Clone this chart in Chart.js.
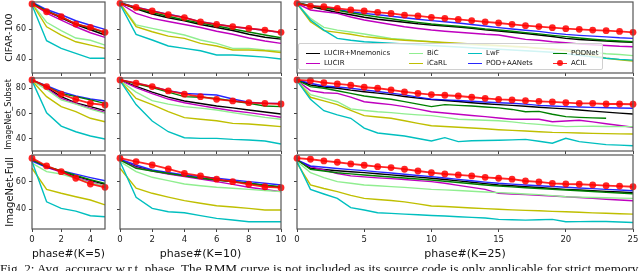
<!DOCTYPE html>
<html>
<head>
<meta charset="utf-8">
<script src="https://cdn.jsdelivr.net/npm/chart.js@4.4.1/dist/chart.umd.min.js"></script>
<style>
  body { margin: 0; width: 640px; height: 271px; overflow: hidden; background: #fff; position: relative; font-family: 'DejaVu Sans', sans-serif; }
  canvas { position: absolute; }
  #legend { position: absolute; left: 298px; top: 43px; width: 303px; height: 25px; background: rgba(255,255,255,0.82); border: 1px solid #d0d0d0; border-radius: 2px; z-index: 2; }
  .item { position: absolute; font-size: 7px; line-height: 8px; color: #111; white-space: nowrap; }
  .item .ln { position: absolute; top: 3.5px; width: 14px; height: 0; border-top: 1.5px solid; }
  .item .dot { position: absolute; top: 1px; left: 4px; width: 6px; height: 6px; border-radius: 50%; background: rgba(255,0,0,0.85); }
  .item span { position: absolute; left: 18px; top: 0; }
  #caption { position: absolute; left: 0; top: 262px; font-family: 'Liberation Serif', serif; font-size: 13.2px; line-height: 13px; white-space: nowrap; color: #111; }
</style>
</head>
<body>

<div id="legend"></div>
<div id="caption">Fig. 2: Avg. accuracy w.r.t. phase. The RMM curve is not included as its source code is only applicable for strict memory</div>

<script>
// Methods and colours (same order in every panel array)
const methods = ['LUCIR+Mnemonics', 'LUCIR', 'BiC', 'iCaRL', 'LwF', 'POD+AANets', 'PODNet', 'ACIL'];
const colors = ['#000000', '#bf00bf', '#90ee90', '#bfbf00', '#00bfbf', 'rgba(0,0,255,0.85)', '#008000', 'rgba(255,0,0,0.85)'];

const rowNames = ['CIFAR-100', 'ImageNet_Subset', 'ImageNet-Full'];
const phaseLabels = ['phase#(K=5)', 'phase#(K=10)', 'phase#(K=25)'];

// CIFAR-100
const cifarK5 = [
  [77.5, 72, 67.5, 63, 59.5, 56],
  [77, 70.5, 66, 61.5, 57.5, 54.4],
  [77, 64.5, 59, 54, 52.5, 49.3],
  [77, 61.5, 56, 51.5, 49.3, 47.1],
  [76, 52.2, 47.1, 43.8, 40.5, 40.5],
  [78, 73, 69.5, 65.5, 62.5, 59.8],
  [77.5, 72, 68, 63.5, 60.5, 57.5],
  [76.7, 71.5, 68.2, 63.3, 61.1, 57.8]
];
const cifarK10 = [
  [77.5, 73.5, 70, 67.5, 65.5, 63, 61, 59, 56.5, 54.5, 53.3],
  [77, 70.4, 67.1, 65, 63, 61, 58.5, 56.5, 54, 52, 50.4],
  [77, 62.7, 60.4, 58.2, 56, 52.7, 50.4, 47.1, 47.1, 46, 45.3],
  [77, 61.5, 58.2, 55.3, 53.8, 50.4, 48.7, 46, 46, 45.5, 44.4],
  [76.5, 56.4, 52.7, 48.7, 47.1, 45.5, 42.7, 42.7, 42, 41.3, 40],
  [77.5, 74.5, 72.2, 69.8, 67.7, 64.8, 63.2, 61.5, 60.3, 59.2, 57.6],
  [77.5, 74, 71, 68.5, 66, 64, 62, 60, 58, 56, 54.2],
  [77.1, 74.4, 72, 69.6, 67.6, 64.7, 63.1, 61.6, 60.4, 59.3, 57.8]
];
const cifarK25 = [
  [77.5, 75, 73, 71, 69.5, 67.8, 66.5, 65.5, 64.5, 63.5, 62.7, 62, 61.3, 60.5, 59.5, 58.7, 57.8, 57, 56, 55, 53.8, 53, 52.5, 52, 51.5, 51.1],
  [77, 72.7, 71.5, 70.4, 68, 66, 64.5, 63, 61.5, 60.3, 59.3, 58.5, 57.8, 57.2, 56.5, 56, 54.5, 53.1, 52.5, 51.5, 50.9, 50, 49.5, 49, 48.5, 48.2],
  [77, 67.1, 61.1, 59.3, 58, 56.7, 55.2, 53.8, 53, 52.3, 51.5, 50.8, 50, 49.5, 49, 48.6, 48.2, 47.8, 47.3, 46.8, 46.2, 45.5, 44.5, 43.5, 43, 42.3],
  [77, 64.9, 58.9, 57.8, 56.5, 54.9, 54, 53.2, 52.5, 52, 51.5, 51, 50.5, 50, 49.5, 49, 48.5, 48, 47.2, 46.5, 45.5, 44, 42.5, 40.5, 39.5, 38.7],
  [77, 66, 59.3, 53.8, 52.5, 51.5, 51, 50.5, 50, 49.5, 49, 48.5, 48, 47.5, 47, 46.5, 46, 45.5, 45, 44.5, 43.5, 42.5, 41.5, 40.5, 39.8, 39.3],
  [77.5, 75.5, 74.5, 73, 71.5, 70.4, 69.5, 68.5, 67.5, 66.5, 65.6, 64.8, 64, 63, 62, 60.9, 60, 59.2, 58.4, 57.3, 56.4, 55.8, 55.3, 54.8, 54.2, 53.8],
  [77.5, 75.5, 74, 72.5, 70.8, 69.3, 68, 66.8, 65.5, 64.4, 63.3, 62.5, 61.8, 61, 60, 59.3, 58.5, 57.6, 56.8, 55.8, 54.9, 54, 53.2, 52.5, 52, 51.5],
  [77.1, 75.3, 74.9, 73.8, 72.7, 72, 71.1, 70.4, 69.3, 68.7, 67.8, 67.1, 66.4, 65.6, 64.7, 64, 63.1, 62.2, 61.6, 60.9, 60.2, 59.8, 59.3, 58.9, 58.4, 57.8]
];

// ImageNet_Subset
const subsetK5 = [
  [86.5, 80.5, 73.4, 68.5, 65.5, 62.3],
  [86.5, 80, 72, 68, 64.2, 61],
  [86, 79, 70.8, 67.5, 63.5, 60.2],
  [86, 73.4, 65.5, 61.5, 56.3, 53.6],
  [86, 60.7, 50.2, 45.7, 42.3, 40],
  [86.5, 82, 77.3, 73.9, 71.5, 70],
  [86.5, 81.5, 76, 73.4, 70.8, 68.1],
  [86.6, 81.3, 75.3, 71.3, 68.1, 66.8]
];
const subsetK10 = [
  [86.5, 81.5, 77, 73, 70, 68, 66, 64.5, 62.9, 61.3, 59.7],
  [86.5, 80.5, 75.8, 71.5, 68.6, 66.3, 64.2, 62.3, 60.8, 59, 57.1],
  [86, 77, 70.2, 67.5, 65.5, 64.3, 62.9, 60.8, 58.9, 57, 55.5],
  [86, 72, 67.1, 61.5, 56.8, 55.5, 54.4, 52.3, 51.8, 50.8, 49.7],
  [86, 67.1, 54.2, 45.7, 41, 40.5, 40.5, 39.7, 39.2, 38.4, 36],
  [86.6, 84, 81.3, 78, 76, 75.3, 74.7, 71.5, 69, 68.1, 68.1],
  [86.6, 83.5, 80.5, 77, 73.4, 72.9, 72, 70, 68.1, 66, 65.5],
  [86.6, 84, 81.3, 77.9, 75.3, 73.4, 71.3, 70, 68.6, 68.1, 67.6]
];
const subsetK25 = [
  [86.5, 82.6, 81, 80, 78.5, 77.3, 76.2, 75, 73.5, 72.2, 71, 70.3, 69.5, 68.6, 67.8, 67.1, 66.5, 65.8, 65, 64.3, 63.7, 62.8, 62, 61.2, 60.4, 59.7],
  [86, 78.1, 76.5, 76, 73, 69.4, 68.2, 67.1, 65.5, 63.5, 61.5, 60.5, 59.5, 58.5, 57.6, 56.5, 55.5, 55.5, 55.5, 53.6, 54.2, 54.8, 53.5, 52, 50.6, 49.2],
  [86, 75, 72.2, 69.4, 63.7, 62.5, 61.5, 60.8, 59.8, 59, 58.4, 57, 55.5, 55.2, 54.8, 54.4, 53.5, 52.3, 51.5, 50.6, 49.7, 49.9, 50, 49.8, 49.7, 49.7],
  [86, 72.9, 70, 67.1, 62.5, 58.4, 57.3, 56.3, 54.4, 52.3, 50.4, 49.8, 49.2, 48.6, 48, 47.3, 46.8, 46.3, 45.7, 45.2, 45, 44.7, 44.4, 44.2, 44, 43.9],
  [86, 71.3, 62.3, 59, 56.3, 48.6, 44.7, 43.5, 42.3, 40.4, 38.4, 41, 37.9, 38.6, 38.8, 39, 39.3, 39.7, 38.2, 36.6, 40.5, 37.9, 36.7, 35.5, 35.1, 34.7],
  [86.5, 84, 81.8, 81, 80, 78.7, 77.5, 76.2, 74.8, 73, 71.3, 70.8, 70.3, 69.8, 69.2, 68.6, 68.2, 67.5, 66.5, 66, 65.5, 65.2, 64.9, 64.6, 64.4, 64.2],
  [86.5, 81.3, 80, 78, 76, 73.9, 72.5, 71.3, 69.5, 67.5, 65.5, 67.1, 66.5, 66, 65.2, 64.5, 63.3, 61.5, 61.8, 59.5, 57.6, 57, 56.6, 56.3, null, null],
  [86.6, 86, 84.4, 83.4, 82.4, 80.8, 80, 78.7, 77.1, 76, 75, 74.5, 73.9, 72.9, 72.1, 71.3, 70.8, 70.2, 69.7, 69.2, 68.6, 68.1, 68.1, 67.6, 67.6, 67.4]
];

// ImageNet-Full
const fullK5 = [
  [76, 71, 67.5, 64, 61, 58.1],
  [76, 70.5, 67, 63, 60, 56.8],
  [73.5, 67.3, 65.6, 62.5, 59.3, 56.8],
  [69.8, 54.4, 51.5, 49, 46.6, 43],
  [74.7, 45.3, 40.5, 38.5, 35.1, 34.4],
  [75, 70.5, 68, 65.5, 63, 60.7],
  [76, 71, 68, 64.5, 61.5, 58.8],
  [77.2, 71.5, 67.3, 62.5, 58.3, 55.9]
];
const fullK10 = [
  [76, 71, 68.1, 66, 64.2, 62.5, 61.2, 60, 58.8, 57.3, 55.9],
  [76, 70.5, 67.8, 65.5, 63.7, 62, 60, 58, 55.9, 54.3, 52.7],
  [74.7, 67.3, 63.2, 60.8, 58.3, 57, 55.9, 55.2, 54.4, 53.5, 52.7],
  [69.8, 55.2, 51.5, 48.7, 46.1, 44.2, 42.4, 41.5, 40.5, 39.3, 39.3],
  [74.7, 48.6, 40.5, 38, 37.3, 35.2, 33.2, 32, 30.7, 30.7, 30.7],
  [76.5, 72.2, 68.6, 66.8, 64.9, 63.7, 62.5, 61.2, 60, 58.8, 57.6],
  [76, 69.8, 67.8, 66, 64.2, 62.5, 61.2, 60, 58.8, 57.5, 56.3],
  [77.2, 74.7, 72.2, 69.3, 66.1, 64.2, 61.8, 60, 58.1, 56.3, 55.6]
];
const fullK25 = [
  [76, 69.8, 68.9, 68, 67.3, 66.6, 65.8, 65, 64.1, 63.3, 62.5, 61.6, 60.6, 59.6, 58.6, 57.6, 57, 56.3, 55.7, 55, 54.4, 53.9, 53.4, 52.9, 52.4, 52],
  [75.5, 71, 68.5, 66, 64.2, 63.5, 62.8, 62.2, 61.6, 60.8, 60, 58.8, 57.3, 55.8, 54.4, 51.5, 51, 50.5, 50, 49.5, 49, 48.4, 47.8, 47.2, 46.6, 46.1],
  [74.7, 66.6, 63, 60, 58.8, 57.6, 57, 56.4, 55.8, 55.1, 54.4, 54, 53.5, 53, 52.5, 52, 51.5, 51, 50.5, 49.8, 49, 48.7, 48.4, 48.2, 48, 47.8],
  [73.5, 57.6, 55, 52.7, 50, 47.8, 47, 46.2, 45.2, 43.8, 42.2, 41.8, 41.3, 40.8, 40.3, 39.8, 39.4, 39, 38.7, 38.3, 38, 37.6, 37.2, 36.9, 36.6, 36.3],
  [74.7, 54.4, 51, 47.8, 41, 39.3, 37.3, 36.8, 36.3, 35.8, 35.3, 34.9, 34.4, 33.9, 33.4, 32.4, 32.2, 31.9, 32.2, 32.4, 30.7, 30.8, 30.9, 30.9, 30.5, 30.2],
  [76, 71.5, 70.5, 69.6, 68.8, 68.1, 67.2, 66.3, 65.4, 64.5, 63.7, 62.7, 61.7, 60.7, 59.7, 58.8, 58.2, 57.6, 57, 56.5, 55.9, 55.4, 54.9, 54.4, 53.9, 53.4],
  [76, 69.1, 67.8, 66.5, 65.7, 64.9, 64.2, 63.4, 62.7, 62, 61.2, 60.3, 59.4, 58.5, 57.6, 56.8, 56.2, 55.6, 55, 54.5, 53.9, 53.4, 52.8, 52.2, 51.7, 51.2],
  [77.2, 76.4, 75.2, 74.2, 73, 72, 71, 70.3, 69.1, 67.8, 66.6, 65.6, 64.9, 64.2, 63.2, 62.5, 61.8, 60.5, 59.8, 58.8, 58.3, 58.1, 57.6, 57.1, 56.8, 56.3]
];

const panels = [
  [cifarK5, cifarK10, cifarK25],
  [subsetK5, subsetK10, subsetK25],
  [fullK5, fullK10, fullK25]
];

// layout of the subplot frames (pixels)
const cols = [
  { l: 32, r: 105, max: 5, step: 2 },
  { l: 120, r: 281, max: 10, step: 2 },
  { l: 297, r: 633, max: 25, step: 5 }
];
const rows = [
  { t: 2, b: 73, min: 30.7, max: 78, step: 20, label: 9.5 },
  { t: 78, b: 151, min: 30.5, max: 88.1, step: 20, label: 8 },
  { t: 155, b: 229, min: 25.4, max: 79.5, step: 20, label: 10 }
];

Chart.defaults.font.family = "'DejaVu Sans', sans-serif";
Chart.defaults.color = '#222';

// ticks at multiples of step only (matplotlib style)
function stepTicks(min, max, step) {
  const out = [];
  for (let v = Math.ceil(min / step) * step; v <= max + 1e-9; v += step) out.push({ value: v });
  return out;
}

const framePlugin = {
  id: 'frame',
  afterDatasetsDraw(chart) {
    const a = chart.chartArea, c = chart.ctx;
    c.save(); c.strokeStyle = '#555'; c.lineWidth = 1.2;
    c.strokeRect(a.left, a.top, a.right - a.left, a.bottom - a.top); c.restore();
  }
};

// y tick labels for the first column, placed with the y scale
const yLabelPlugin = {
  id: 'yLabels',
  afterDraw(chart) {
    if (!chart.$showYLabels) return;
    const s = chart.scales.y, c = chart.ctx;
    c.save();
    c.font = "8px 'DejaVu Sans', sans-serif";
    c.fillStyle = '#222';
    c.textAlign = 'right';
    c.textBaseline = 'middle';
    s.ticks.forEach(t => c.fillText(String(t.value), s.right - 6, s.getPixelForValue(t.value)));
    c.restore();
  }
};

const PAD_TOP = 6, PAD_RIGHT = 10;

function makePanel(ri, ci) {
  const row = rows[ri], col = cols[ci];
  const firstCol = ci === 0, lastRow = ri === 2;
  const yW = firstCol ? 32 : 10;
  const xH = lastRow ? 35 : 5;
  const w = col.r - col.l, h = row.b - row.t;

  const cv = document.createElement('canvas');
  cv.width = w + yW + PAD_RIGHT;
  cv.height = h + PAD_TOP + xH;
  cv.style.left = (col.l - yW) + 'px';
  cv.style.top = (row.t - PAD_TOP) + 'px';
  document.body.insertBefore(cv, document.getElementById('legend'));

  const datasets = panels[ri][ci].map((vals, i) => ({
    label: methods[i],
    data: vals.map((v, k) => ({ x: k, y: v })),
    borderColor: colors[i],
    backgroundColor: colors[i],
    borderWidth: i === 7 ? 1.8 : 1.4,
    pointRadius: i === 7 ? 3.4 : 0,
    pointBorderWidth: 0,
    pointHoverRadius: 0,
    tension: 0,
    clip: 6,
    order: 8 - i
  }));

  const ch = new Chart(cv, {
    type: 'line',
    data: { datasets },
    plugins: [framePlugin, yLabelPlugin],
    options: {
      responsive: false, animation: false, events: [],
      layout: { padding: { top: PAD_TOP, right: PAD_RIGHT, left: 0, bottom: 0 } },
      plugins: { legend: { display: false }, tooltip: { enabled: false } },
      scales: {
        x: {
          type: 'linear', min: 0, max: col.max,
          afterBuildTicks: s => { s.ticks = stepTicks(0, col.max, col.step); },
          afterFit: s => { s.height = xH; },
          grid: { drawOnChartArea: false, drawTicks: true, tickLength: 3, color: '#444' },
          border: { display: false },
          ticks: { display: lastRow, font: { size: 8.5 }, padding: 3, maxRotation: 0, autoSkip: false },
          title: { display: lastRow, text: phaseLabels[ci], font: { size: 11 }, color: '#111', padding: { top: 0, bottom: 3 } }
        },
        y: {
          min: row.min, max: row.max,
          afterBuildTicks: s => { s.ticks = stepTicks(row.min, row.max, row.step); },
          afterFit: s => { s.width = yW; },
          grid: { drawOnChartArea: false, drawTicks: true, tickLength: 3, color: '#444' },
          border: { display: false },
          ticks: { display: false, font: { size: 8 }, padding: 3, autoSkip: false },
          title: { display: firstCol, text: rowNames[ri], font: { size: row.label }, color: '#111', padding: { top: 4, bottom: 0 } }
        }
      }
    }
  });
  ch.$showYLabels = firstCol;
  ch.draw();
  return ch;
}

const charts = [];
for (let r = 0; r < 3; r++) for (let c = 0; c < 3; c++) charts.push(makePanel(r, c));

// legend (4 columns x 2 rows, column-major like matplotlib)
const legendCols = [7, 110, 169, 254];
const legendRows = [5, 15];
const legendBox = document.getElementById('legend');
methods.forEach((m, i) => {
  const el = document.createElement('div');
  el.className = 'item';
  el.style.left = legendCols[Math.floor(i / 2)] + 'px';
  el.style.top = legendRows[i % 2] + 'px';
  el.innerHTML = '<div class="ln" style="border-color:' + colors[i] + '"></div>' +
    (i === 7 ? '<div class="dot"></div>' : '') + '<span>' + m + '</span>';
  legendBox.appendChild(el);
});
</script>
</body>
</html>
